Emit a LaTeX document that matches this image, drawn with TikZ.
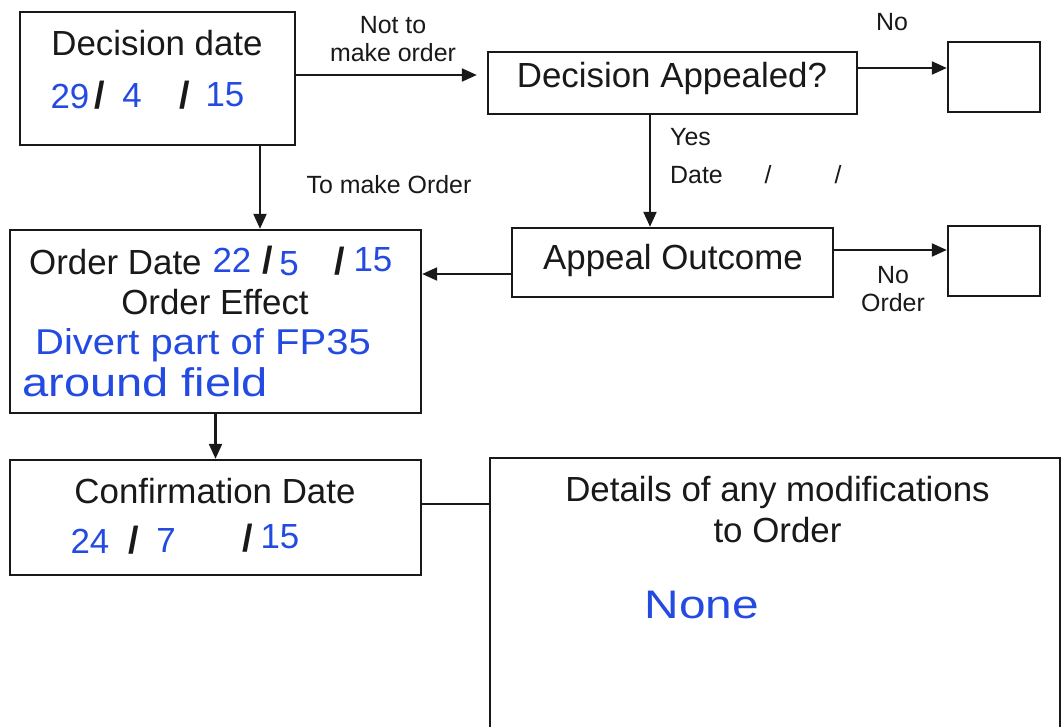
\documentclass[tikz,border=0pt]{standalone}
\usepackage{fontspec}
\usepackage{graphicx}
\setmainfont{Liberation Sans}
\usetikzlibrary{arrows.meta}
\definecolor{ink}{RGB}{25,25,25}
\definecolor{pen}{RGB}{35,75,225}
\begin{document}
\begin{tikzpicture}[x=1bp,y=-1bp,
  box/.style={draw=ink, line width=2.4bp, inner sep=0pt},
  conn/.style={draw=ink, line width=2.2bp, -{Triangle[length=15bp,width=13bp]}},
  plain/.style={draw=ink, line width=2.2bp},
  big/.style={font=\fontsize{35}{41}\selectfont, text=ink, inner sep=0pt, align=center},
  small/.style={font=\fontsize{25}{28}\selectfont, text=ink, inner sep=0pt, align=center},
  hand/.style={font=\fontsize{35}{40}\selectfont, text=pen, inner sep=0pt},
  slash/.style={font=\bfseries\fontsize{38}{40}\selectfont, text=ink, inner sep=0pt}]
\useasboundingbox (0,0) rectangle (1064,727);
\clip (0,0) rectangle (1064,727);
\fill[white] (0,0) rectangle (1064,727);

% boxes
\node[box, minimum width=275bp, minimum height=133bp] (dd) at (157.5,78.5) {};
\node[box, minimum width=369bp, minimum height=62bp] (da) at (672.5,83) {};
\node[box, minimum width=92bp, minimum height=70bp] (nb1) at (994,77) {};
\node[box, minimum width=321bp, minimum height=69bp] (ao) at (672.5,262.5) {};
\node[box, minimum width=92bp, minimum height=70bp] (nb2) at (994,261) {};
\node[box, minimum width=411bp, minimum height=183bp] (od) at (215.5,321.5) {};
\node[box, minimum width=411bp, minimum height=115bp] (cd) at (215.5,517.5) {};
\node[box, minimum width=570bp, minimum height=302bp] (det) at (775,609) {};

% connectors
\draw[conn, shorten >=10bp] ([yshift=3.5bp]dd.east) -- ([yshift=3.5bp]dd.east -| da.west);
\draw[conn] ([yshift=9bp]nb1.west -| da.east) -- ([yshift=9bp]nb1.west);
\draw[conn] ([xshift=-22.5bp]da.south) -- ([xshift=-22.5bp]da.south |- ao.north);
\draw[conn] ([yshift=12.5bp]ao.east) -- ([yshift=12.5bp]ao.east -| nb2.west);
\draw[conn] ([yshift=-11.5bp]ao.west) -- ([yshift=-11.5bp]ao.west -| od.east);
\draw[conn] ([xshift=102.5bp]dd.south) -- ([xshift=102.5bp]dd.south |- od.north);
\draw[conn] (od.south) -- (cd.north);
\draw[plain] ([yshift=13.5bp]cd.east) -- ([yshift=13.5bp]cd.east -| det.west);

% connector labels
\node[small] (lnot) at (393,39) {Not to\\make order};
\node[small] (lno1) at (892,22) {No};
\node[small, anchor=west] (lyes) at (670,137) {Yes};
\node[small, anchor=west] (ldate) at (670,175) {Date};
\node[small] (ls1) at (768,175) {/};
\node[small] (ls2) at (838,175) {/};
\node[small] (lmake) at (389,185) {To make Order};
\node[small] (lno2) at (893,289) {No\\Order};

% decision date
\node[big] (tdd) at (157,43) {Decision date};
\node[hand] (d1) at (70,96) {29};
\node[slash] (d1s) at (100,95) {/};
\node[hand] (d2) at (132,96) {4};
\node[slash] (d2s) at (185,95) {/};
\node[hand] (d3) at (225,95) {15};

% decision appealed / appeal outcome
\node[big] (tda) at (672,78) {Decision Appealed?};
\node[big] (tao) at (673,260) {Appeal Outcome};

% order box
\node[big, anchor=west] (tod) at (29,262) {Order Date};
\node[hand] (o1) at (232,260) {22};
\node[slash] (o1s) at (268,260) {/};
\node[hand] (o2) at (289,264) {5};
\node[slash] (o2s) at (340,261) {/};
\node[hand] (o3) at (373,260) {15};
\node[big] (toe) at (215,302) {Order Effect};
\node[hand, anchor=west, font=\fontsize{36}{40}\selectfont] (oe1) at (35,345) {\scalebox{1.115}[1]{Divert part of FP35}};
\node[hand, anchor=west, font=\fontsize{40}{44}\selectfont] (oe2) at (22,382) {\scalebox{1.18}[1]{around field}};

% confirmation
\node[big] (tcd) at (215,491) {Confirmation Date};
\node[hand] (c1) at (90,541) {24};
\node[slash] (c1s) at (134,540) {/};
\node[hand] (c2) at (166,541) {7};
\node[slash] (c2s) at (248,538) {/};
\node[hand] (c3) at (280,537) {15};

% details
\node[big] (tdet) at (777.5,509.5) {Details of any modifications\\to Order};
\node[hand, font=\fontsize{40}{44}\selectfont] (none) at (702,605) {\scalebox{1.2}[1]{None}};
\end{tikzpicture}
\end{document}
